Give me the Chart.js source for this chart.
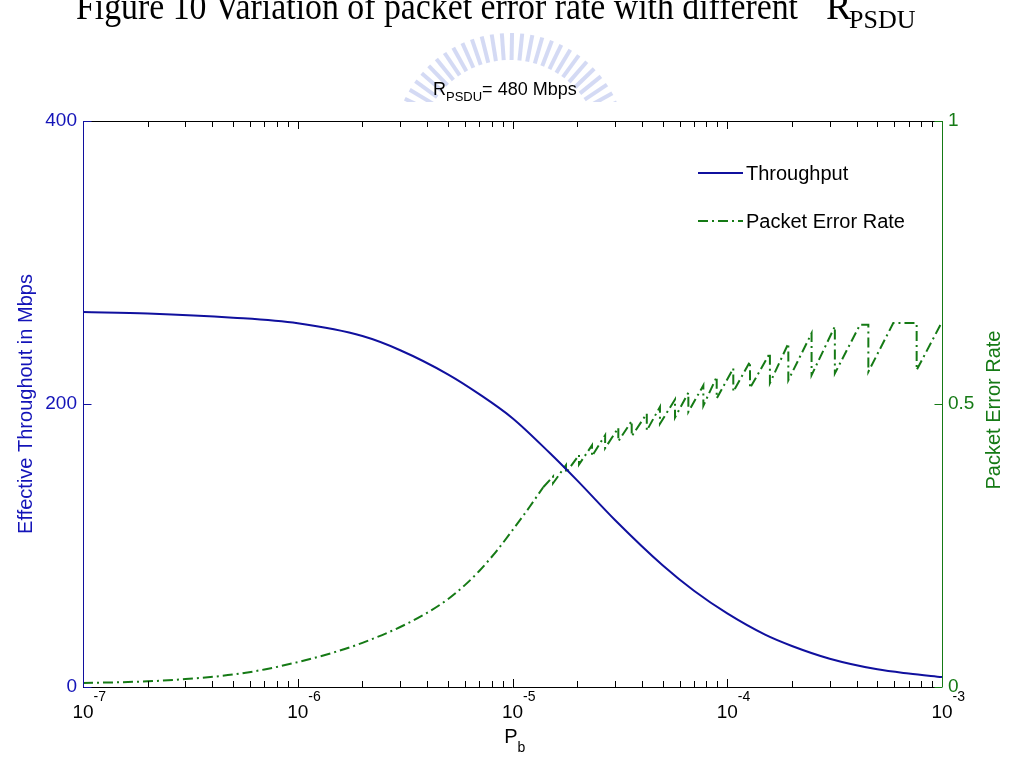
<!DOCTYPE html>
<html>
<head>
<meta charset="utf-8">
<title>Throughput and packet error rate vs Pb</title>
<script src="https://cdn.jsdelivr.net/npm/chart.js@4.4.0/dist/chart.umd.min.js"></script>
<style>
  html, body { margin: 0; padding: 0; background: #fff; }
  #wrap { width: 1009px; height: 758px; }
</style>
</head>
<body>
<div id="wrap"><canvas id="chart" width="1009" height="758"></canvas></div>
<script>
// bit error probability Pb (x) and effective throughput in Mbps
const throughputPb = [1e-7, 2e-7, 5e-7, 1e-6, 2e-6, 3e-6, 5e-6, 7e-6, 1e-5, 1.5e-5,
  2e-5, 3e-5, 5e-5, 7e-5, 1e-4, 1.5e-4, 2e-4, 3e-4, 5e-4, 7e-4, 1e-3];
const throughputMbps = [265, 264, 261, 257, 248, 238, 221, 207, 190, 165,
  146, 118, 86, 68, 52, 37, 29, 20, 12.5, 9.5, 7];

// packet error rate, smooth part
const perSmoothPb = [1e-7, 2e-7, 3e-7, 5e-7, 7e-7, 1e-6, 1.5e-6, 2e-6, 3e-6, 4e-6,
  5e-6, 6e-6, 7e-6, 8.5e-6, 1e-5, 1.2e-5, 1.39e-5];
const perSmoothValue = [0.007, 0.010, 0.014, 0.022, 0.031, 0.044, 0.062, 0.078, 0.106, 0.131,
  0.155, 0.180, 0.205, 0.242, 0.277, 0.318, 0.353];

// packet error rate, sawtooth part; repeated Pb values are the vertical drops
const perSawPb = [1.39e-5,
  1.545e-5, 1.545e-5, 1.774e-5, 1.774e-5, 2.04e-5, 2.04e-5, 2.345e-5, 2.345e-5,
  2.70e-5, 2.70e-5, 3.11e-5, 3.11e-5, 3.59e-5, 3.59e-5, 4.22e-5, 4.22e-5,
  4.86e-5, 4.86e-5, 5.71e-5, 5.71e-5, 6.59e-5, 6.59e-5, 7.74e-5, 7.74e-5,
  8.93e-5, 8.93e-5, 1.067e-4, 1.067e-4, 1.276e-4, 1.276e-4, 1.58e-4, 1.58e-4,
  1.925e-4, 1.925e-4, 2.47e-4, 2.47e-4, 3.17e-4, 3.17e-4,
  4.15e-4, 4.54e-4, 4.54e-4, 5.93e-4, 7.62e-4, 7.62e-4, 1e-3];
const perSawValue = [0.353,
  0.372, 0.360, 0.392, 0.378, 0.410, 0.393, 0.427, 0.408,
  0.445, 0.422, 0.458, 0.434, 0.470, 0.443, 0.483, 0.453,
  0.495, 0.465, 0.508, 0.476, 0.520, 0.486, 0.533, 0.497,
  0.548, 0.510, 0.563, 0.522, 0.575, 0.528, 0.590, 0.537,
  0.607, 0.542, 0.625, 0.551, 0.637, 0.554,
  0.640, 0.640, 0.557, 0.643, 0.643, 0.560, 0.645];

const decadeTicks = [1e-7, 1e-6, 1e-5, 1e-4, 1e-3];
const decadeExponents = ['-7', '-6', '-5', '-4', '-3'];
const leftTicks = [0, 200, 400];
const rightTicks = [0, 0.5, 1];
const rightTickLabels = ['0', '0.5', '1'];

const BLUE = '#10109e';
const BLUE_TEXT = '#1414b8';
const GREEN = '#157a15';
const FONT = '"Liberation Sans", Arial, sans-serif';
const PER_DASH = [10, 4, 2, 4];

function zip(xs, ys) {
  return xs.map((x, i) => ({ x: x, y: ys[i] }));
}

// faint school emblem behind the title (watermark of the source page)
const watermarkPlugin = {
  id: 'watermark',
  beforeDraw(chart) {
    const ctx = chart.ctx;
    ctx.save();
    ctx.beginPath();
    ctx.rect(380, 30, 260, 72);
    ctx.clip();
    ctx.strokeStyle = 'rgba(120, 140, 220, 0.32)';
    ctx.lineWidth = 4;
    const cx = 510, cy = 150;
    for (let deg = 196; deg <= 344; deg += 5) {
      const r = deg * Math.PI / 180;
      ctx.beginPath();
      ctx.moveTo(cx + Math.cos(r) * 90, cy + Math.sin(r) * 90);
      ctx.lineTo(cx + Math.cos(r) * 117, cy + Math.sin(r) * 117);
      ctx.stroke();
    }
    ctx.restore();
  }
};

const axesPlugin = {
  id: 'matlabAxes',
  afterDraw(chart) {
    const { ctx, chartArea: a, scales } = chart;
    const sx = scales.x, sy = scales.y, sy1 = scales.y1;
    ctx.save();
    ctx.lineWidth = 1;

    // log ticks, top and bottom, pointing inward
    ctx.strokeStyle = '#000';
    ctx.beginPath();
    for (let e = -7; e <= -3; e++) {
      for (let m = 1; m <= 9; m++) {
        if (e === -3 && m > 1) break;
        const px = Math.round(sx.getPixelForValue(m * Math.pow(10, e))) + 0.5;
        const len = m === 1 ? 8 : 6;
        ctx.moveTo(px, a.top); ctx.lineTo(px, a.top + len);
        ctx.moveTo(px, a.bottom); ctx.lineTo(px, a.bottom - len);
      }
    }
    ctx.moveTo(a.left, Math.round(a.top) + 0.5); ctx.lineTo(a.right, Math.round(a.top) + 0.5);
    ctx.moveTo(a.left, Math.round(a.bottom) + 0.5); ctx.lineTo(a.right, Math.round(a.bottom) + 0.5);
    ctx.stroke();

    // left axis
    ctx.strokeStyle = BLUE;
    ctx.beginPath();
    const lx = Math.round(a.left) + 0.5;
    ctx.moveTo(lx, a.top); ctx.lineTo(lx, a.bottom);
    leftTicks.forEach(v => {
      const py = Math.round(sy.getPixelForValue(v)) + 0.5;
      ctx.moveTo(lx, py); ctx.lineTo(lx + 8, py);
    });
    ctx.stroke();

    // right axis
    ctx.strokeStyle = GREEN;
    ctx.beginPath();
    const rx = Math.round(a.right) + 0.5;
    ctx.moveTo(rx, a.top); ctx.lineTo(rx, a.bottom);
    rightTicks.forEach(v => {
      const py = Math.round(sy1.getPixelForValue(v)) + 0.5;
      ctx.moveTo(rx, py); ctx.lineTo(rx - 8, py);
    });
    ctx.stroke();

    // y tick labels
    ctx.font = '19px ' + FONT;
    ctx.textBaseline = 'middle';
    ctx.textAlign = 'right';
    ctx.fillStyle = BLUE_TEXT;
    leftTicks.forEach(v => ctx.fillText(String(v), a.left - 6, sy.getPixelForValue(v)));
    ctx.textAlign = 'left';
    ctx.fillStyle = GREEN;
    rightTicks.forEach((v, i) => ctx.fillText(rightTickLabels[i], a.right + 6, sy1.getPixelForValue(v)));

    // x tick labels 10^n
    ctx.fillStyle = '#000';
    ctx.textBaseline = 'alphabetic';
    decadeTicks.forEach((v, i) => {
      const px = sx.getPixelForValue(v);
      ctx.font = '19px ' + FONT;
      ctx.textAlign = 'center';
      ctx.fillText('10', px, a.bottom + 31);
      const w = ctx.measureText('10').width;
      ctx.font = '14px ' + FONT;
      ctx.textAlign = 'left';
      ctx.fillText(decadeExponents[i], px + w / 2, a.bottom + 14);
    });

    // x axis title P_b
    const cx = (a.left + a.right) / 2;
    ctx.font = '20px ' + FONT;
    ctx.textAlign = 'right';
    ctx.fillText('P', cx + 5, a.bottom + 56);
    ctx.font = '14px ' + FONT;
    ctx.textAlign = 'left';
    ctx.fillText('b', cx + 5, a.bottom + 65);

    // y axis titles
    const cy = (a.top + a.bottom) / 2;
    ctx.font = '20px ' + FONT;
    ctx.textAlign = 'center';
    ctx.fillStyle = BLUE_TEXT;
    ctx.save();
    ctx.translate(32, cy);
    ctx.rotate(-Math.PI / 2);
    ctx.fillText('Effective Throughout in Mbps', 0, 0);
    ctx.restore();
    ctx.fillStyle = GREEN;
    ctx.save();
    ctx.translate(1000, cy + 6);
    ctx.rotate(-Math.PI / 2);
    ctx.fillText('Packet Error Rate', 0, 0);
    ctx.restore();

    // plot title R_PSDU = 480 Mbps
    ctx.fillStyle = '#000';
    ctx.textAlign = 'left';
    ctx.font = '18px ' + FONT;
    let tx = 433;
    ctx.fillText('R', tx, 95);
    tx += ctx.measureText('R').width;
    ctx.font = '13px ' + FONT;
    ctx.fillText('PSDU', tx, 101);
    tx += ctx.measureText('PSDU').width;
    ctx.font = '18px ' + FONT;
    ctx.fillText('= 480 Mbps', tx, 95);

    // legend inside the axes
    ctx.lineWidth = 2;
    ctx.strokeStyle = BLUE;
    ctx.setLineDash([]);
    ctx.beginPath(); ctx.moveTo(698, 173); ctx.lineTo(743, 173); ctx.stroke();
    ctx.strokeStyle = GREEN;
    ctx.setLineDash(PER_DASH);
    ctx.beginPath(); ctx.moveTo(698, 221); ctx.lineTo(743, 221); ctx.stroke();
    ctx.setLineDash([]);
    ctx.fillStyle = '#000';
    ctx.font = '20px ' + FONT;
    ctx.textBaseline = 'middle';
    ctx.fillText('Throughput', 746, 174);
    ctx.fillText('Packet Error Rate', 746, 222);

    // figure caption, partly cut off at the top of the page
    ctx.textBaseline = 'alphabetic';
    ctx.font = '38px "Liberation Serif", "Times New Roman", serif';
    const cap = 'Figure 10 Variation of packet error rate with different';
    const cw = ctx.measureText(cap).width;
    ctx.save();
    ctx.translate(76, 19);
    ctx.scale(722 / cw, 1);
    ctx.fillText(cap, 0, 0);
    ctx.restore();
    ctx.fillText('R', 826, 19);
    ctx.font = '26px "Liberation Serif", "Times New Roman", serif';
    ctx.fillText('PSDU', 849, 28);

    ctx.restore();
  }
};

new Chart(document.getElementById('chart'), {
  type: 'line',
  data: {
    datasets: [
      {
        label: 'Throughput',
        data: zip(throughputPb, throughputMbps),
        yAxisID: 'y',
        borderColor: BLUE,
        borderWidth: 2,
        pointRadius: 0,
        cubicInterpolationMode: 'monotone',
        fill: false
      },
      {
        label: 'Packet Error Rate',
        data: zip(perSmoothPb, perSmoothValue),
        yAxisID: 'y1',
        borderColor: GREEN,
        borderWidth: 2,
        borderDash: PER_DASH,
        pointRadius: 0,
        cubicInterpolationMode: 'monotone',
        fill: false
      },
      {
        label: 'Packet Error Rate (sawtooth)',
        data: zip(perSawPb, perSawValue),
        yAxisID: 'y1',
        borderColor: GREEN,
        borderWidth: 2,
        borderDash: PER_DASH,
        pointRadius: 0,
        tension: 0,
        fill: false
      }
    ]
  },
  options: {
    responsive: false,
    animation: false,
    layout: { padding: { left: 83, right: 67, top: 121, bottom: 71 } },
    plugins: {
      legend: { display: false },
      tooltip: { enabled: false }
    },
    scales: {
      x: { type: 'logarithmic', min: 1e-7, max: 1e-3, display: false },
      y: { type: 'linear', min: 0, max: 400, display: false },
      y1: { type: 'linear', min: 0, max: 1, display: false }
    }
  },
  plugins: [watermarkPlugin, axesPlugin]
});
</script>
</body>
</html>
